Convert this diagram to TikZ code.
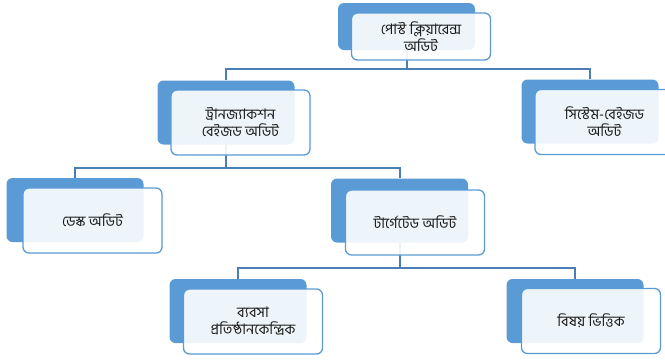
\documentclass[tikz,border=0pt]{standalone}
\usepackage{fontspec}
\newfontfamily\bnfont[Script=Bengali]{Hind Siliguri}
\usetikzlibrary{calc}
\pgfdeclarelayer{background}
\pgfsetlayers{background,main}
\definecolor{backblue}{HTML}{5B9BD5}
\definecolor{connblue}{HTML}{4A7FB5}
\definecolor{txt}{HTML}{1A1A1A}
\tikzset{
  backbox/.style={draw=none, fill=backblue, rounded corners=6pt, minimum width=137pt, minimum height=64pt, inner sep=0pt},
  frontbox/.style={draw=backblue, line width=1.3pt, fill=white, fill opacity=0.9, text opacity=1, rounded corners=6pt, minimum width=139pt, minimum height=65pt, inner sep=2pt, align=center, text=txt, font=\bnfont\fontsize{14.5}{17}\selectfont},
  conn/.style={draw=connblue, line width=2pt}
}
\begin{document}
\begin{tikzpicture}[x=1pt,y=-1pt]
\useasboundingbox (0,0) rectangle (665,360);
% back boxes
\node[backbox, minimum height=47pt] (b1) at (406.5,26.5) {};
\node[backbox] (b2) at (226,112.5) {};
\node[backbox] (b3) at (590,111.5) {};
\node[backbox] (b4) at (75,210) {};
\node[backbox] (b5) at (399.5,210.5) {};
\node[backbox] (b6) at (238,311) {};
\node[backbox] (b7) at (575,311) {};
% junctions
\coordinate (j1) at (405,69);
\coordinate (j2) at (226,168);
\coordinate (j3) at (399.5,268);
% connectors behind all boxes
\begin{pgfonlayer}{background}
\draw[conn] (b1.center) -- (b1.center |- j1);
\draw[conn] (b2.north) -- (b2.north |- j1) -- (b3.north |- j1) -- (b3.north);
\draw[conn] (b2.center) -- (j2);
\draw[conn] (b4.north) -- (b4.north |- j2) -- (b5.north |- j2) -- (b5.north);
\draw[conn] (b5.center) -- (j3);
\draw[conn] (b6.north) -- (b6.north |- j3) -- (b7.north |- j3) -- (b7.north);
\end{pgfonlayer}
% front boxes
\node[frontbox, minimum height=47pt] (f1) at ($(b1.center)+(14.5,10)$) {পোস্ট ক্লিয়ারেন্স\\অডিট};
\node[frontbox] (f2) at ($(b2.center)+(14.5,10)$) {ট্রানজ্যাকশন\\বেইজড অডিট};
\node[frontbox] (f3) at ($(b3.center)+(14.5,10.5)$) {সিস্টেম-বেইজড\\অডিট};
\node[frontbox] (f4) at ($(b4.center)+(17.5,10.5)$) {ডেস্ক অডিট};
\node[frontbox] (f5) at ($(b5.center)+(15.5,12)$) {টার্গেটেড অডিট};
\node[frontbox] (f6) at ($(b6.center)+(15,10.5)$) {ব্যবসা\\প্রতিষ্ঠানকেন্দ্রিক};
\node[frontbox] (f7) at ($(b7.center)+(16,10)$) {বিষয় ভিত্তিক};
\end{tikzpicture}
\end{document}
